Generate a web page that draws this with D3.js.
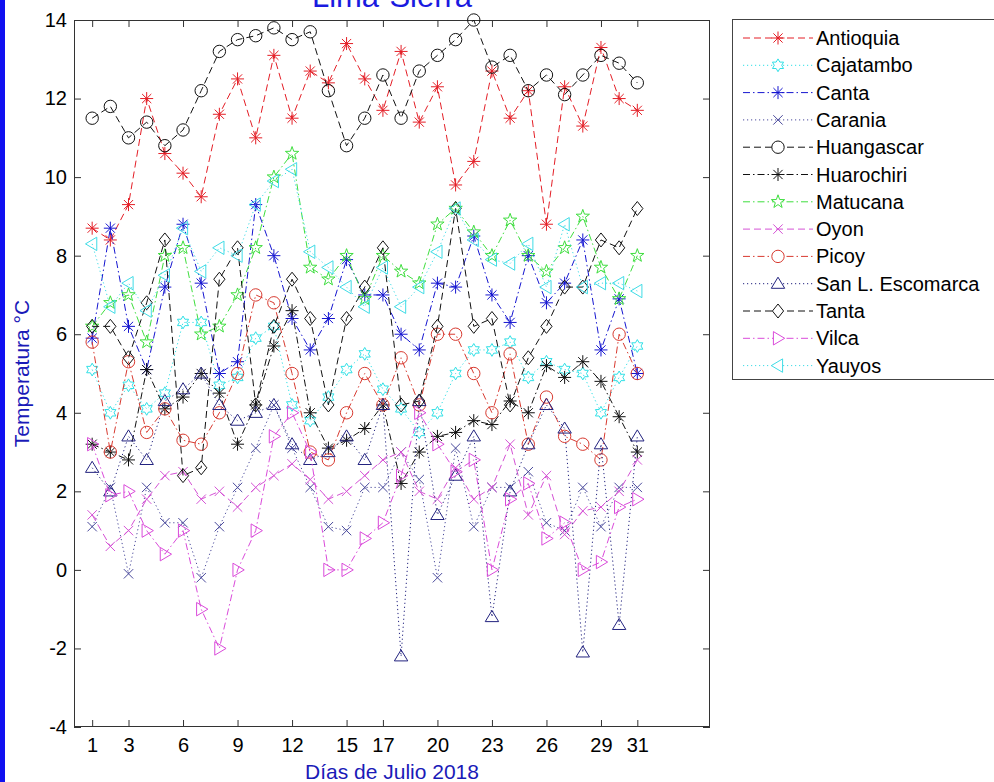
<!DOCTYPE html>
<html><head><meta charset="utf-8">
<script src="https://cdn.jsdelivr.net/npm/d3@7"></script>
<style>
html,body{margin:0;padding:0;background:#fff;}
svg{display:block;font-family:"Liberation Sans",Arial,sans-serif;}
</style></head>
<body>
<svg id="chart" width="994" height="782"></svg>
<script>
// ---------- data ----------
const days = [1,2,3,4,5,6,7,8,9,10,11,12,13,14,15,16,17,18,19,20,21,22,23,24,25,26,27,28,29,30,31];
const xTicks = [1,3,6,9,12,15,17,20,23,26,29,31];
const yTicks = [-4,-2,0,2,4,6,8,10,12,14];
const stationNames = ["Antioquia","Cajatambo","Canta","Carania","Huangascar","Huarochiri","Matucana","Oyon","Picoy","San L. Escomarca","Tanta","Vilca","Yauyos"];

const antioquia  = [8.7,8.4,9.3,12.0,10.6,10.1,9.5,11.6,12.5,11.0,13.1,11.5,12.7,12.4,13.4,12.5,11.7,13.2,11.4,12.3,9.8,10.4,12.7,11.5,12.2,8.8,12.3,11.3,13.3,12.0,11.7];
const cajatambo  = [5.1,4.0,4.7,4.1,4.5,6.3,6.3,4.7,4.9,5.9,6.2,4.2,3.8,4.4,5.1,5.5,4.6,4.1,3.5,4.0,5.0,5.6,5.6,5.8,4.9,5.3,5.1,5.0,4.0,4.9,5.7];
const canta      = [5.9,8.7,6.2,5.1,7.2,8.8,7.3,5.0,5.3,9.3,8.0,6.4,5.6,6.4,7.9,7.0,7.0,6.0,5.6,7.3,7.2,8.5,7.0,6.3,8.0,6.8,7.3,8.4,5.6,6.9,5.0];
const carania    = [1.1,2.1,-0.1,2.1,1.2,1.2,-0.2,1.1,2.1,3.1,4.2,3.1,2.1,1.1,1.0,2.1,2.1,3.0,2.3,-0.2,3.1,1.1,2.1,2.1,2.5,1.2,1.0,2.1,1.1,2.1,2.1];
const huangascar = [11.5,11.8,11.0,11.4,10.8,11.2,12.2,13.2,13.5,13.6,13.8,13.5,13.7,12.2,10.8,11.5,12.6,11.5,12.7,13.1,13.5,14.0,12.8,13.1,12.2,12.6,12.1,12.6,13.1,12.9,12.4];
const huarochiri = [3.2,3.0,2.8,5.1,4.1,4.4,5.0,4.5,3.2,4.2,5.7,6.6,4.0,3.1,3.3,3.6,4.2,2.2,3.0,3.4,3.5,3.8,3.7,4.3,4.0,5.2,4.9,5.3,4.8,3.9,3.0];
const matucana   = [6.2,6.8,7.0,5.8,8.0,8.2,6.0,6.2,7.0,8.2,10.0,10.6,7.7,7.4,8.0,6.9,8.0,7.6,7.3,8.8,9.2,8.6,8.0,8.9,8.0,7.6,8.2,9.0,7.7,6.9,8.0];
const oyon       = [1.4,0.6,1.0,1.8,2.4,2.5,1.8,2.0,1.6,2.1,2.4,2.7,2.3,1.8,2.0,2.4,2.8,3.0,2.0,1.8,2.6,1.8,2.1,3.2,1.4,2.4,0.9,1.5,1.6,2.0,2.8];
const picoy      = [5.8,3.0,5.3,3.5,4.1,3.3,3.2,4.0,5.0,7.0,6.8,5.0,3.0,2.8,4.0,5.0,4.2,5.4,4.2,6.0,6.0,5.0,4.0,5.5,3.2,4.4,3.4,3.2,2.8,6.0,5.0];
const sanLuis    = [2.6,2.0,3.4,2.8,4.3,4.6,5.0,4.2,3.8,4.0,4.2,3.2,2.8,3.0,3.4,2.8,4.2,-2.2,4.3,1.4,2.4,3.4,-1.2,2.0,3.2,4.2,3.6,-2.1,3.2,-1.4,3.4];
const tanta      = [6.2,6.2,5.4,6.8,8.4,2.4,2.6,7.4,8.2,4.2,6.2,7.4,6.4,4.2,6.4,7.2,8.2,4.2,4.3,6.2,9.2,6.2,6.4,4.2,5.4,6.2,7.2,7.2,8.4,8.2,9.2];
const vilca      = [3.2,1.9,2.0,1.0,0.4,1.0,-1.0,-2.0,0.0,1.0,3.4,4.0,3.0,0.0,0.0,0.8,1.2,2.4,4.0,3.2,2.5,2.8,0.0,1.8,2.2,0.8,1.2,0.0,0.2,1.6,1.8];
const yauyos     = [8.3,6.7,7.3,6.6,7.5,8.7,7.6,8.2,8.0,9.3,9.9,10.2,8.1,7.7,7.2,6.7,7.7,6.7,7.2,8.1,9.2,8.4,7.9,7.8,8.3,7.2,8.8,7.2,7.3,7.3,7.1];

const seriesValues = [antioquia,cajatambo,canta,carania,huangascar,huarochiri,matucana,oyon,picoy,sanLuis,tanta,vilca,yauyos];
const seriesColors = ["#e41e26","#2fe0e6","#1515d0","#4a4a9c","#111111","#111111","#3ede3e","#d552d5","#d83a30","#23237f","#111111","#da4ada","#3fdce6"];
const seriesLines  = ["--",":","-.",":","--","-.","-.","--","-.",":","--","-.",":"];
const seriesMarks  = ["*","h","*","x","o","*","p","x","o","^","d",">","<"];

// ---------- layout ----------
const svg = d3.select("#chart");
const L = 74, R = 710, T = 20, B = 727;
const x = d3.scaleLinear().domain([0,35]).range([L,R]);
const y = d3.scaleLinear().domain([-4,14]).range([B,T]);

svg.append("rect").attr("x",0).attr("y",0).attr("width",994).attr("height",782).attr("fill","#fff");
svg.append("rect").attr("x",0).attr("y",0).attr("width",5).attr("height",782).attr("fill","#1010f0");

const dashMap = {"--":"7,4","-.":"7,3,1.5,3",":":"1.2,2.8"};

function starPts(n, ro, ri){
  const p=[];
  for(let i=0;i<2*n;i++){
    const r = i%2===0?ro:ri;
    const a = -Math.PI/2 + i*Math.PI/n;
    p.push([r*Math.cos(a), r*Math.sin(a)]);
  }
  return "M"+p.map(q=>q[0].toFixed(2)+","+q[1].toFixed(2)).join("L")+"Z";
}
function markerPath(m){
  switch(m){
    case "*": return "M-6.5,0H6.5M0,-6.5V6.5M-4.6,-4.6L4.6,4.6M-4.6,4.6L4.6,-4.6";
    case "x": return "M-4.7,-4.7L4.7,4.7M-4.7,4.7L4.7,-4.7";
    case "o": return "M6.2,0A6.2,6.2 0 1,1 -6.2,0A6.2,6.2 0 1,1 6.2,0Z";
    case "h": return starPts(6,6.4,3.7);
    case "p": return starPts(5,7,2.8);
    case "^": return "M0,-6.5L6.7,4.6L-6.7,4.6Z";
    case ">": return "M6.7,0L-4.6,-6.7L-4.6,6.7Z";
    case "<": return "M-6.7,0L4.6,-6.7L4.6,6.7Z";
    case "d": return "M0,-7L5.6,0L0,7L-5.6,0Z";
  }
}

// ---------- axes ----------
const axFont = "20px";
const fmt = d => String(d);
const gB = svg.append("g").attr("transform",`translate(0,${B})`)
  .call(d3.axisBottom(x).tickValues(xTicks).tickFormat(fmt).tickSizeInner(-7).tickSizeOuter(0).tickPadding(11));
const gT = svg.append("g").attr("transform",`translate(0,${T})`)
  .call(d3.axisTop(x).tickValues(xTicks).tickSizeInner(-7).tickSizeOuter(0).tickFormat(""));
const gL = svg.append("g").attr("transform",`translate(${L},0)`)
  .call(d3.axisLeft(y).tickValues(yTicks).tickFormat(fmt).tickSizeInner(-7).tickSizeOuter(0).tickPadding(7));
const gR = svg.append("g").attr("transform",`translate(${R},0)`)
  .call(d3.axisRight(y).tickValues(yTicks).tickSizeInner(-7).tickSizeOuter(0).tickFormat(""));
[gB,gT,gL,gR].forEach(g=>{
  g.select(".domain").remove();
  g.selectAll(".tick line").attr("stroke","#333").attr("stroke-width",1);
  g.selectAll(".tick text").attr("fill","#000").style("font-size",axFont).style("font-family","'Liberation Sans',Arial,sans-serif");
});
svg.append("rect").attr("x",L+0.5).attr("y",T+0.5).attr("width",R-L-1).attr("height",B-T-1)
  .attr("fill","none").attr("stroke","#333").attr("stroke-width",1);

// ---------- series ----------
const line = d3.line().x((d,i)=>x(days[i])).y(d=>y(d));
seriesValues.forEach((vals,k)=>{
  const g = svg.append("g").attr("class","series");
  g.append("path").attr("d",line(vals)).attr("fill","none")
    .attr("stroke",seriesColors[k]).attr("stroke-width",1)
    .attr("stroke-dasharray",dashMap[seriesLines[k]]);
  g.selectAll("path.mk").data(vals).enter().append("path").attr("class","mk")
    .attr("d",markerPath(seriesMarks[k]))
    .attr("transform",(d,i)=>`translate(${x(days[i])},${y(d)})`)
    .attr("fill","none").attr("stroke",seriesColors[k]).attr("stroke-width",1);
});

// ---------- labels ----------
svg.append("text").attr("x",(L+R)/2).attr("y",7).attr("text-anchor","middle")
  .attr("fill","#1a1ae0").style("font-size","31px").text("Lima-Sierra");
svg.append("text").attr("x",(L+R)/2).attr("y",779).attr("text-anchor","middle")
  .attr("fill","#1a1ab8").style("font-size","21px").text("Días de Julio 2018");
svg.append("text").attr("transform",`translate(29,${(T+B)/2}) rotate(-90)`).attr("text-anchor","middle")
  .attr("fill","#1a1ab8").style("font-size","21px").text("Temperatura °C");

// ---------- legend ----------
const lg = svg.append("g");
lg.append("rect").attr("x",732.5).attr("y",19.5).attr("width",280).attr("height",360)
  .attr("fill","#fff").attr("stroke","#444").attr("stroke-width",1);
stationNames.forEach((name,k)=>{
  const yy = 38 + k*27.3;
  lg.append("line").attr("x1",743).attr("x2",813).attr("y1",yy).attr("y2",yy)
    .attr("stroke",seriesColors[k]).attr("stroke-width",1).attr("stroke-dasharray",dashMap[seriesLines[k]]);
  lg.append("path").attr("d",markerPath(seriesMarks[k])).attr("transform",`translate(778,${yy})`)
    .attr("fill","#fff").attr("stroke",seriesColors[k]).attr("stroke-width",1);
  lg.append("text").attr("x",816).attr("y",yy).attr("dy","0.35em").attr("fill","#000")
    .style("font-size","20px").text(name);
});
</script>
</body></html>
